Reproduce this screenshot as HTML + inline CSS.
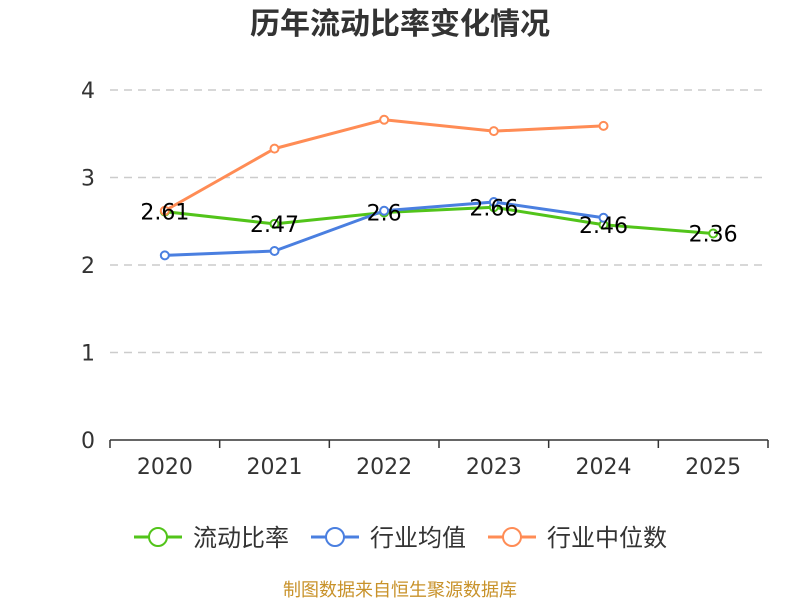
<!DOCTYPE html>
<html><head><meta charset="utf-8"><style>
body{margin:0;background:#fff;}
svg{display:block;font-family:"DejaVu Sans","Noto Sans CJK SC",sans-serif;}
</style></head><body>
<svg id="chart" width="800" height="600">
<text x="400" y="34" text-anchor="middle" font-size="30" font-weight="bold" fill="#333" font-family="Liberation Sans, Noto Sans CJK SC, sans-serif">历年流动比率变化情况</text>
<g id="grid"></g><g id="axes"></g><g id="series"></g><g id="labels"></g>
<g font-family="Liberation Sans, Noto Sans CJK SC, sans-serif">
<g><line x1="134" y1="537" x2="182" y2="537" stroke="#52c41a" stroke-width="3"/><circle cx="158" cy="537" r="9" fill="#fff" stroke="#52c41a" stroke-width="2"/><text x="193" y="546" font-size="24" fill="#333">流动比率</text></g>
<g><line x1="311" y1="537" x2="359" y2="537" stroke="#4a7fe0" stroke-width="3"/><circle cx="335" cy="537" r="9" fill="#fff" stroke="#4a7fe0" stroke-width="2"/><text x="370" y="546" font-size="24" fill="#333">行业均值</text></g>
<g><line x1="488" y1="537" x2="536" y2="537" stroke="#ff8c55" stroke-width="3"/><circle cx="512" cy="537" r="9" fill="#fff" stroke="#ff8c55" stroke-width="2"/><text x="547" y="546" font-size="24" fill="#333">行业中位数</text></g>
</g>
<text x="400" y="596" text-anchor="middle" font-size="18" fill="#c8922a" font-family="Liberation Sans, Noto Sans CJK SC, sans-serif">制图数据来自恒生聚源数据库</text>
</svg>
<script>
const categories=["2020","2021","2022","2023","2024","2025"];
const ratio=[2.61,2.47,2.6,2.66,2.46,2.36];
const industryAvg=[2.11,2.16,2.62,2.72,2.54];
const industryMedian=[2.62,3.33,3.66,3.53,3.59];
const yTicks=[0,1,2,3,4];
const NS="http://www.w3.org/2000/svg";
const L=110,R=768,T=90,B=440,bw=(R-L)/categories.length;
const xs=i=>L+bw*(i+0.5), ys=v=>B-(v/4)*(B-T);
function mk(t,a,p){const e=document.createElementNS(NS,t);for(const k in a)e.setAttribute(k,a[k]);p.appendChild(e);return e;}
const grid=document.getElementById('grid'),axes=document.getElementById('axes');
yTicks.forEach(v=>{
 if(v>0){const g=mk('line',{x1:L,x2:R,y1:ys(v),y2:ys(v),stroke:'#ccc','stroke-dasharray':'8,6','stroke-width':1.5},grid);
 
 }
 const t=mk('text',{x:95,y:ys(v)+8,'text-anchor':'end','font-size':22,fill:'#333'},axes);t.textContent=v;
 
 
});
const ax=mk('line',{x1:L,x2:R,y1:B,y2:B,stroke:'#333','stroke-width':1.5},axes);


for(let i=0;i<=categories.length;i++){const tk=mk('line',{x1:L+bw*i,x2:L+bw*i,y1:B,y2:B+8,stroke:'#333','stroke-width':1.5},axes);
 
 }
categories.forEach((c,i)=>{const t=mk('text',{x:xs(i),y:474,'text-anchor':'middle','font-size':22,fill:'#333'},axes);t.textContent=c;
 
 });
const S=document.getElementById('series');
function series(arr,color,name){
 const p=mk('polyline',{points:arr.map((v,i)=>xs(i)+','+ys(v)).join(' '),fill:'none',stroke:color,'stroke-width':3,'stroke-linejoin':'round'},S);
 
 
 arr.forEach((v,i)=>{const c=mk('circle',{cx:xs(i),cy:ys(v),r:4,fill:'#fff',stroke:color,'stroke-width':2},S);
  
  });
}
series(ratio,'#52c41a','ratio');
series(industryMedian,'#ff8c55','industry-median');
series(industryAvg,'#4a7fe0','industry-avg');
const LB=document.getElementById('labels');
ratio.forEach((v,i)=>{const t=mk('text',{x:xs(i),y:ys(v)+8,'text-anchor':'middle','font-size':22,fill:'#000'},LB);t.textContent=v;
 
 });
</script>
</body></html>
